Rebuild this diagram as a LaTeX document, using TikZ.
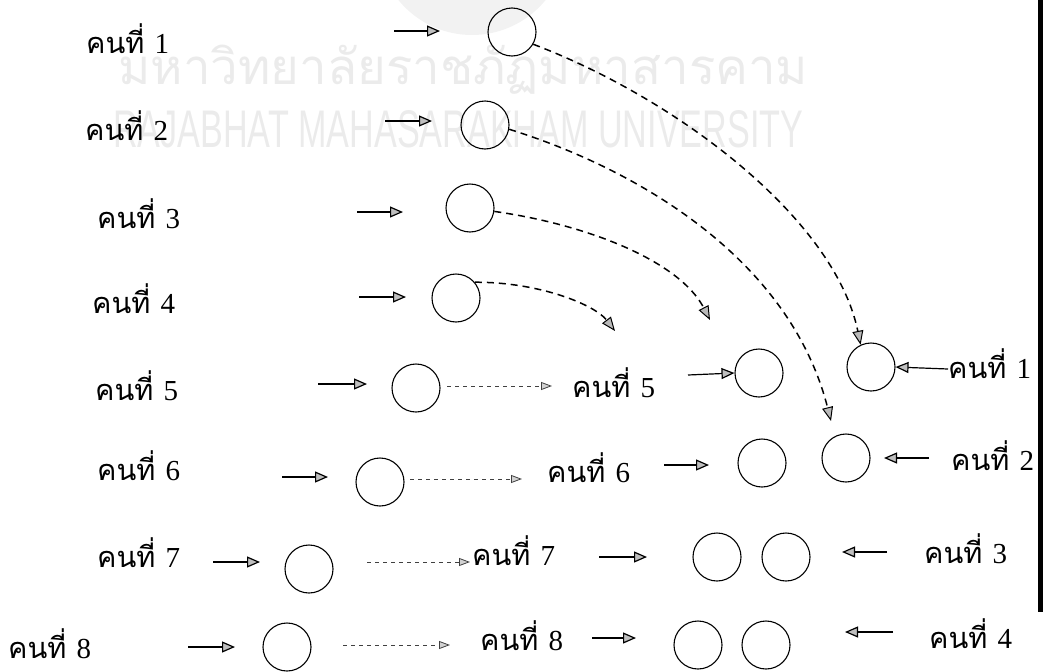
\documentclass[tikz,border=0pt]{standalone}
\usepackage{fontspec}
\usepackage{graphicx}
\usetikzlibrary{arrows.meta}
\newfontfamily\thaifont[Script=Thai]{Loma}
\newfontfamily\numfont{Liberation Serif}
\newfontfamily\wmsans{Liberation Sans}
\newcommand{\khon}[1]{{\thaifont คนที่}\hspace{0.35em}{\numfont #1}}
\begin{document}
\begin{tikzpicture}[x=1pt,y=-1pt,
  lbl/.style={anchor=base west, inner sep=0, font=\fontsize{29}{34}\selectfont},
  ring/.style={circle, draw, line width=1.1pt, minimum size=48pt, inner sep=0},
  sarrow/.style={line width=1.2pt, -{Triangle[length=13pt,width=11pt,fill=gray!50]}},
  harrow/.style={line width=0.7pt, dash pattern=on 4pt off 4pt, draw=black!75, -{Triangle[length=11pt,width=8pt,fill=gray!35,line width=0.8pt]}},
  carrow/.style={line width=1.5pt, dash pattern=on 7pt off 5pt, -{Triangle[length=14pt,width=11pt,fill=gray!55,line width=1pt]}}
]
\useasboundingbox (0,0) rectangle (1047,672);
% watermark
\begin{scope}
\clip (0,0) rectangle (1047,672);
\fill[gray!10] (472,-60) circle (95);
\end{scope}
\node[anchor=base west, inner sep=0, text=gray!16] (wm1) at (118,84)
  {\resizebox{690pt}{!}{\thaifont มหาวิทยาลัยราชภัฏมหาสารคาม}};
\node[anchor=base west, inner sep=0, text=gray!16] (wm2) at (113,147)
  {\resizebox{690pt}{37pt}{\wmsans RAJABHAT MAHASARAKHAM UNIVERSITY}};
% right border
\draw[line width=5pt] (1040,0) -- (1040,612);

% left labels
\node[lbl] (t1) at (86,53) {\khon{1}};
\node[lbl] (t2) at (85,140) {\khon{2}};
\node[lbl] (t3) at (97,228) {\khon{3}};
\node[lbl] (t4) at (92,313) {\khon{4}};
\node[lbl] (t5) at (95,400) {\khon{5}};
\node[lbl] (t6) at (97,480) {\khon{6}};
\node[lbl] (t7) at (97,567) {\khon{7}};
\node[lbl] (t8) at (8,658) {\khon{8}};

% left circles
\node[ring] (l1) at (512,32) {};
\node[ring] (l2) at (485,125) {};
\node[ring] (l3) at (470,208) {};
\node[ring] (l4) at (456,298) {};
\node[ring] (l5) at (416,388) {};
\node[ring] (l6) at (380,482) {};
\node[ring] (l7) at (309,569) {};
\node[ring] (l8) at (287,647) {};

% left arrows
\coordinate (a1s) at (394,31); \coordinate (a1e) at (440,31);
\coordinate (a2s) at (385,121); \coordinate (a2e) at (432,121);
\coordinate (a3s) at (357,212); \coordinate (a3e) at (403,212);
\coordinate (a4s) at (359,297); \coordinate (a4e) at (406,297);
\coordinate (a5s) at (318,384); \coordinate (a5e) at (367,384);
\coordinate (a6s) at (282,477); \coordinate (a6e) at (328,477);
\coordinate (a7s) at (213,562); \coordinate (a7e) at (260,562);
\coordinate (a8s) at (188,647); \coordinate (a8e) at (235,647);
\foreach \i in {1,...,8} {\draw[sarrow] (a\i s) -- (a\i e);}

% middle labels
\node[lbl] (m5) at (572,397) {\khon{5}};
\node[lbl] (m6) at (547,482) {\khon{6}};
\node[lbl] (m7) at (472,565) {\khon{7}};
\node[lbl] (m8) at (480,650) {\khon{8}};

% horizontal dashed arrows
\coordinate (h5s) at (447,386); \coordinate (h5e) at (552,386);
\coordinate (h6s) at (410,479); \coordinate (h6e) at (522,479);
\coordinate (h7s) at (367,562); \coordinate (h7e) at (470,562);
\coordinate (h8s) at (343,645); \coordinate (h8e) at (450,645);
\foreach \i in {5,...,8} {\draw[harrow] (h\i s) -- (h\i e);}

% right circles
\node[ring] (r5a) at (759,373) {};
\node[ring] (r5b) at (871,367) {};
\node[ring] (r6a) at (762,463) {};
\node[ring] (r6b) at (846,458) {};
\node[ring] (r7a) at (717,557) {};
\node[ring] (r7b) at (786,557) {};
\node[ring] (r8a) at (698,645) {};
\node[ring] (r8b) at (766,645) {};

% middle solid arrows
\coordinate (b5s) at (688,375);
\draw[sarrow] (b5s) -- (r5a.west);
\coordinate (b6s) at (664,465); \coordinate (b6e) at (709,465);
\coordinate (b7s) at (599,557); \coordinate (b7e) at (647,557);
\coordinate (b8s) at (592,638); \coordinate (b8e) at (636,638);
\foreach \i in {6,7,8} {\draw[sarrow] (b\i s) -- (b\i e);}

% right labels
\node[lbl] (q1) at (948,378) {\khon{1}};
\node[lbl] (q2) at (951,470) {\khon{2}};
\node[lbl] (q3) at (924,563) {\khon{3}};
\node[lbl] (q4) at (929,648) {\khon{4}};

% right arrows (pointing left)
\coordinate (c5s) at (948,369);
\draw[sarrow] (c5s) -- (r5b.east);
\coordinate (c6s) at (929,458); \coordinate (c6e) at (884,458);
\coordinate (c7s) at (887,552); \coordinate (c7e) at (842,552);
\coordinate (c8s) at (893,632); \coordinate (c8e) at (845,632);
\foreach \i in {6,7,8} {\draw[sarrow] (c\i s) -- (c\i e);}

% curved dashed arrows
\coordinate (e2) at (831,421);
\coordinate (e3) at (710,320);
\coordinate (e4) at (615,331);
\draw[carrow] (l1.-30) .. controls (680,100) and (835,220) .. (r5b.115);
\draw[carrow] (l2.-10) .. controls (640,170) and (790,260) .. (e2);
\draw[carrow] (l3.-8) .. controls (590,225) and (680,262) .. (e3);
\draw[carrow] (l4.40) .. controls (540,282) and (595,305) .. (e4);
\end{tikzpicture}
\end{document}
